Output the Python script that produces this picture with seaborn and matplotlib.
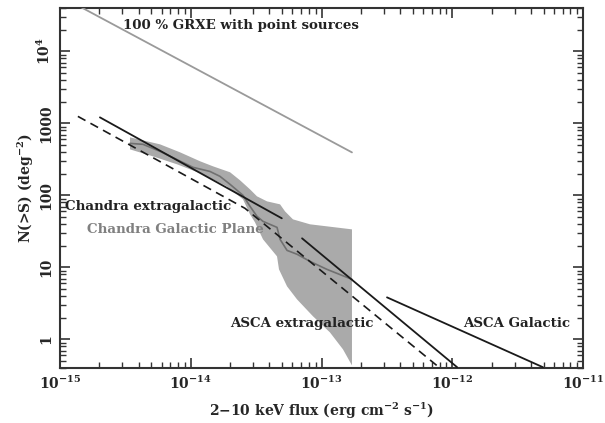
import numpy as np
import pandas as pd
import matplotlib
matplotlib.use("Agg")
import matplotlib.pyplot as plt
from matplotlib.ticker import LogLocator, NullFormatter
import seaborn as sns

# ---------------- data ----------------
grxe_S = [1.45e-15, 1.71e-13]
grxe_N = [4.1e4, 395]

chandra_xgal_S = [2.02e-15, 4.97e-14]
chandra_xgal_N = [1211, 48]

dashed_S = [1.37e-15, 2.6e-14, 7.6e-13]
dashed_N = [1250, 66, 0.435]

asca_xgal_S = [7.1e-14, 1.09e-12]
asca_xgal_N = [25.3, 0.41]

asca_gal_S = [3.17e-13, 4.94e-12]
asca_gal_N = [3.83, 0.41]

cgp_S = [3.43e-15, 4.32e-15, 5.82e-15, 1.04e-14, 1.40e-14, 1.67e-14, 2.00e-14,
         2.51e-14, 2.84e-14, 3.21e-14, 3.57e-14, 4.57e-14, 4.82e-14, 5.45e-14,
         6.50e-14, 8.17e-14, 1.10e-13, 1.71e-13]
cgp_N = [527, 511, 408, 245, 215, 184, 142, 100, 70.4, 51.1, 43.5, 35.9, 24.5,
         17.2, 15.2, 12.1, 9.38, 6.81]

band_up_S = [3.43e-15, 5.82e-15, 8.28e-15, 1.18e-14, 1.48e-14, 2.00e-14, 2.38e-14,
             2.84e-14, 3.21e-14, 3.83e-14, 4.82e-14, 5.26e-14, 6.05e-14, 8.17e-14,
             1.71e-13]
band_up_N = [639, 511, 396, 297, 253, 209, 162, 121, 96.9, 82.5, 75.0, 59.9, 46.4,
             39.6, 33.7]
band_lo_S = [3.43e-15, 5.14e-15, 7.85e-15, 1.24e-14, 1.89e-14, 2.51e-14, 2.84e-14,
             3.10e-14, 3.57e-14, 4.57e-14, 4.73e-14, 5.45e-14, 6.50e-14, 8.61e-14,
             1.16e-13, 1.46e-13, 1.71e-13]
band_lo_N = [435, 348, 270, 196, 133, 88.0, 54.5, 42.2, 24.5, 14.2, 9.38, 5.45,
             3.59, 2.09, 1.25, 0.726, 0.435]

x_ticks = [1e-15, 1e-14, 1e-13, 1e-12, 1e-11]
x_ticklabels = [r"$10^{-15}$", r"$10^{-14}$", r"$10^{-13}$", r"$10^{-12}$", r"$10^{-11}$"]
y_ticks = [1, 10, 100, 1000, 1e4]
y_ticklabels = ["1", "10", "100", "1000", r"$10^4$"]

labels = ["100 % GRXE with point sources", "Chandra extragalactic",
          "Chandra Galactic Plane", "ASCA extragalactic", "ASCA Galactic"]
label_S = [3.03e-15, 1.09e-15, 1.61e-15, 2.0e-14, 1.21e-12]
label_N = [2.3e4, 70.4, 33.7, 1.67, 1.67]
label_colors = ["#222222", "#222222", "#808080", "#222222", "#222222"]

# ---------------- style ----------------
sns.set_style("ticks")
plt.rcParams["font.family"] = ["DejaVu Serif"]
plt.rcParams["font.weight"] = "bold"
plt.rcParams["mathtext.fontset"] = "dejavuserif"
plt.rcParams["mathtext.default"] = "bf"

fig = plt.figure(figsize=(6.05, 4.23), dpi=100)
ax = fig.add_axes([60 / 605, 1 - 368 / 423, 523 / 605, 360 / 423])

# band
poly_S = list(band_up_S) + list(band_lo_S[::-1])
poly_N = list(band_up_N) + list(band_lo_N[::-1])
ax.fill(poly_S, poly_N, color="#aaaaaa", lw=0, zorder=1)

def line(S, N, **kw):
    df = pd.DataFrame({"S": S, "N": N})
    sns.lineplot(data=df, x="S", y="N", ax=ax, sort=False, estimator=None, **kw)

line(grxe_S, grxe_N, color="#9a9a9a", lw=1.3, zorder=3)
line(cgp_S, cgp_N, color="#707070", lw=1.2, zorder=3)
line(chandra_xgal_S, chandra_xgal_N, color="#1a1a1a", lw=1.3, zorder=4)
line(dashed_S, dashed_N, color="#1a1a1a", lw=1.2, linestyle=(0, (5.2, 3.4)), zorder=4)
line(asca_xgal_S, asca_xgal_N, color="#1a1a1a", lw=1.3, zorder=4)
line(asca_gal_S, asca_gal_N, color="#1a1a1a", lw=1.3, zorder=4)

for t, s, n, c in zip(labels, label_S, label_N, label_colors):
    ax.text(s, n, t, color=c, fontsize=9.6, fontweight="bold", ha="left", va="center", zorder=5)

ax.set_xscale("log")
ax.set_yscale("log")
ax.set_xlim(1e-15, 1e-11)
ax.set_ylim(0.4, 4e4)

ax.set_xticks(x_ticks)
ax.set_xticklabels(x_ticklabels)
ax.set_yticks(y_ticks)
ax.set_yticklabels(y_ticklabels, rotation=90, va="center")
ax.xaxis.set_minor_locator(LogLocator(base=10, subs=np.arange(2, 10)))
ax.yaxis.set_minor_locator(LogLocator(base=10, subs=np.arange(2, 10)))
ax.xaxis.set_minor_formatter(NullFormatter())
ax.yaxis.set_minor_formatter(NullFormatter())

ax.tick_params(which="both", direction="in", top=True, right=True, color="#333333")
ax.tick_params(which="major", length=7, width=1.2, labelsize=10, pad=5)
ax.tick_params(which="minor", length=4, width=1.0)
for sp in ax.spines.values():
    sp.set_linewidth(1.5)
    sp.set_color("#333333")

ax.set_xlabel(r"2$-$10 keV flux (erg cm$^{-2}$ s$^{-1}$)", fontsize=10, fontweight="bold", labelpad=6)
ax.set_ylabel(r"N(>S) (deg$^{-2}$)", fontsize=10, fontweight="bold", labelpad=0)

fig.savefig("out.png", dpi=100)
